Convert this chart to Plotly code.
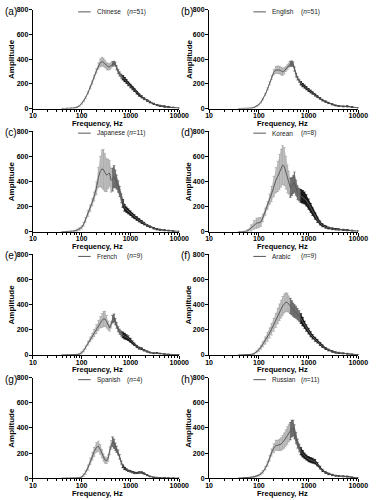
import plotly.graph_objects as go

# ---------------- data ----------------
FREQ_HZ = [40, 50, 60, 70, 80, 90, 100, 110, 120, 135, 150, 165, 180, 200, 220, 240, 260, 280, 300, 325,
           350, 375, 400, 430, 460, 490, 520, 560, 600, 650, 700, 760, 830, 900, 1000, 1100, 1200, 1350, 1500, 1700,
           1900, 2200, 2500, 3000, 3500, 4000, 5000, 6000, 7500, 10000]

CHINESE_MEAN = [0, 1, 2, 4, 10, 22, 40, 62, 88, 128, 170, 210, 255, 305, 345, 370, 380, 375, 362, 345,
                338, 340, 350, 362, 368, 360, 330, 300, 280, 262, 250, 235, 220, 200, 182, 165, 150, 128, 110, 95,
                80, 65, 52, 38, 28, 22, 16, 12, 8, 4]
CHINESE_SD = [1, 1, 1, 2, 3, 4, 5, 6, 7, 9, 10, 12, 14, 18, 25, 32, 35, 33, 30, 28,
              26, 24, 22, 18, 15, 15, 16, 17, 17, 17, 17, 17, 16, 15, 14, 13, 12, 11, 10, 9,
              8, 7, 6, 5, 5, 5, 6, 5, 3, 2]

ENGLISH_MEAN = [0, 0, 1, 3, 8, 18, 32, 50, 75, 115, 160, 205, 250, 295, 312, 315, 312, 305, 298, 305,
                320, 335, 350, 362, 365, 360, 320, 270, 245, 225, 205, 190, 178, 165, 150, 138, 126, 110, 96, 82,
                68, 56, 45, 34, 25, 20, 17, 18, 12, 5]
ENGLISH_SD = [1, 1, 1, 1, 2, 3, 4, 5, 6, 7, 8, 12, 16, 20, 28, 30, 30, 30, 30, 25,
              20, 20, 20, 20, 20, 18, 16, 14, 13, 13, 13, 13, 13, 13, 12, 11, 10, 9, 8, 7,
              6, 6, 5, 5, 4, 4, 4, 5, 3, 2]

JAPANESE_MEAN = [0, 0, 2, 6, 12, 22, 35, 60, 95, 145, 188, 235, 280, 345, 430, 480, 500, 495, 470, 450,
                 462, 465, 410, 415, 440, 420, 395, 360, 320, 265, 225, 190, 175, 162, 148, 132, 120, 105, 92, 78,
                 65, 50, 40, 28, 20, 16, 12, 9, 6, 3]
JAPANESE_SD = [1, 2, 3, 5, 8, 10, 12, 15, 18, 22, 25, 28, 35, 50, 80, 120, 150, 160, 150, 130,
               115, 100, 95, 90, 85, 70, 55, 45, 40, 35, 30, 25, 22, 20, 18, 17, 16, 15, 14, 12,
               10, 8, 7, 6, 5, 5, 4, 4, 3, 2]

KOREAN_MEAN = [0, 1, 8, 30, 55, 68, 72, 78, 110, 160, 210, 260, 300, 360, 410, 440, 475, 505, 530, 520,
               470, 420, 390, 350, 360, 375, 395, 350, 310, 295, 285, 278, 268, 250, 220, 190, 160, 125, 95, 70,
               52, 38, 30, 24, 20, 18, 15, 12, 9, 6]
KOREAN_SD = [1, 3, 10, 25, 35, 40, 40, 35, 30, 28, 30, 40, 60, 80, 100, 120, 140, 150, 155, 150,
             130, 110, 90, 75, 70, 70, 80, 60, 55, 50, 50, 50, 48, 45, 40, 35, 30, 25, 20, 16,
             12, 10, 8, 7, 6, 6, 5, 5, 4, 3]

FRENCH_MEAN = [0, 0, 0, 1, 3, 8, 18, 35, 60, 95, 125, 150, 175, 205, 235, 260, 275, 285, 288, 265,
               235, 215, 240, 285, 295, 265, 235, 205, 185, 170, 160, 150, 142, 135, 118, 100, 85, 68, 55, 50,
               38, 28, 20, 14, 16, 12, 7, 5, 3, 2]
FRENCH_SD = [0.5, 0.5, 1, 2, 3, 5, 8, 10, 12, 15, 18, 22, 28, 35, 40, 45, 55, 60, 60, 50,
             35, 25, 25, 30, 30, 25, 22, 20, 20, 20, 22, 22, 20, 18, 15, 12, 10, 9, 8, 7,
             6, 5, 4, 3, 4, 3, 2, 2, 1, 1]

ARABIC_MEAN = [0, 1, 2, 4, 10, 25, 42, 62, 85, 115, 145, 175, 205, 240, 275, 310, 340, 365, 390, 410,
               420, 418, 405, 390, 375, 360, 350, 340, 325, 310, 290, 265, 240, 215, 190, 165, 145, 125, 110, 88,
               70, 52, 40, 28, 20, 17, 13, 10, 6, 3]
ARABIC_SD = [1, 1, 2, 3, 5, 8, 12, 15, 20, 28, 35, 40, 45, 50, 55, 60, 65, 70, 75, 75,
             75, 72, 65, 60, 55, 52, 50, 48, 45, 42, 38, 32, 28, 25, 22, 20, 18, 16, 14, 12,
             10, 8, 7, 6, 5, 5, 4, 3, 2, 1]

SPANISH_MEAN = [0, 0, 0, 0, 1, 3, 10, 25, 45, 85, 135, 175, 210, 245, 255, 230, 195, 165, 145, 140,
                160, 220, 265, 290, 275, 250, 230, 205, 170, 125, 95, 78, 68, 60, 55, 48, 42, 42, 46, 46,
                38, 25, 15, 8, 5, 4, 3, 2, 1, 1]
SPANISH_SD = [0, 0, 0.5, 1, 2, 4, 6, 10, 14, 20, 25, 30, 35, 38, 40, 38, 32, 28, 25, 22,
              25, 30, 35, 38, 35, 30, 25, 20, 18, 12, 10, 8, 7, 6, 6, 5, 5, 5, 6, 6,
              5, 4, 3, 2, 2, 1, 1, 1, 1, 1]

RUSSIAN_MEAN = [1, 2, 4, 8, 12, 17, 24, 35, 50, 80, 115, 160, 205, 240, 262, 262, 265, 272, 285, 300,
                320, 340, 360, 375, 395, 400, 370, 320, 275, 240, 215, 195, 178, 165, 152, 145, 140, 132, 112, 85,
                62, 45, 35, 26, 20, 17, 15, 14, 8, 3]
RUSSIAN_SD = [1, 1, 2, 3, 4, 5, 6, 8, 10, 14, 18, 22, 28, 35, 40, 40, 45, 50, 55, 60,
              65, 70, 70, 68, 65, 62, 55, 45, 35, 30, 28, 25, 22, 20, 20, 20, 20, 18, 14, 11,
              9, 7, 6, 5, 4, 4, 4, 4, 2, 1]

LANGUAGES = ["Chinese", "English", "Japanese", "Korean", "French", "Arabic", "Spanish", "Russian"]
N_SPEAKERS = [51, 51, 11, 8, 9, 9, 4, 11]
PANEL_TAGS = ["(a)", "(b)", "(c)", "(d)", "(e)", "(f)", "(g)", "(h)"]
MEANS = [CHINESE_MEAN, ENGLISH_MEAN, JAPANESE_MEAN, KOREAN_MEAN, FRENCH_MEAN, ARABIC_MEAN, SPANISH_MEAN, RUSSIAN_MEAN]
SDS = [CHINESE_SD, ENGLISH_SD, JAPANESE_SD, KOREAN_SD, FRENCH_SD, ARABIC_SD, SPANISH_SD, RUSSIAN_SD]

Y_TICKS = [0, 200, 400, 600, 800]
X_TICKS = [10, 100, 1000, 10000]
X_TICK_LABELS = ["10", "100", "1000", "10000"]

# ---------------- layout geometry (pixels) ----------------
W, H = 377, 500
COLS = [(30, 182), (213, 368)]
ROWS = [(6, 106), (129, 231), (254, 356), (379, 481)]
FONT = "Liberation Sans, Arial, sans-serif"

def px(x):
    return x / W

def py(y):
    return 1 - y / H

# shading segments (frequency range, band fill, error-bar colour)
SEGMENTS = [(0, 460, "#c9c9c9", "#a2a2a2"),
            (460, 760, "#7c7c7c", "#5e5e5e"),
            (760, 20000, "#1e1e1e", "#141414")]

fig = go.Figure()
annotations = []
shapes = []

for i, lang in enumerate(LANGUAGES):
    r, c = divmod(i, 2)
    k = i + 1
    xa = "x" if k == 1 else f"x{k}"
    ya = "y" if k == 1 else f"y{k}"
    mean, sd = MEANS[i], SDS[i]
    for lo, hi, fillc, barc in SEGMENTS:
        idx = [j for j, f in enumerate(FREQ_HZ) if lo <= f <= hi]
        if idx[0] > 0:
            idx = [idx[0] - 1] + idx
        fs = [FREQ_HZ[j] for j in idx]
        up = [mean[j] + sd[j] for j in idx]
        dn = [max(mean[j] - sd[j], 0) for j in idx]
        fig.add_trace(go.Scatter(x=fs + fs[::-1], y=up + dn[::-1], fill="toself", fillcolor=fillc,
                                 line=dict(width=0), mode="lines", hoverinfo="skip", showlegend=False,
                                 xaxis=xa, yaxis=ya))
        fig.add_trace(go.Scatter(x=fs, y=[mean[j] for j in idx], mode="markers",
                                 marker=dict(size=1, color="rgba(0,0,0,0)"),
                                 error_y=dict(type="data", array=[sd[j] for j in idx], color=barc,
                                              thickness=0.7, width=1.2),
                                 hoverinfo="skip", showlegend=False, xaxis=xa, yaxis=ya))
    fig.add_trace(go.Scatter(x=FREQ_HZ, y=mean, mode="lines", line=dict(color="#5a5a5a", width=1),
                             showlegend=False, xaxis=xa, yaxis=ya))

    x0, x1 = COLS[c]
    top, bot = ROWS[r]
    axis_common = dict(showline=True, linecolor="black", linewidth=1.3, ticks="outside",
                       tickcolor="black", tickwidth=1, ticklen=3, showgrid=False, zeroline=False,
                       tickfont=dict(family=FONT, size=7, color="black", weight="bold"))
    fig.layout[("xaxis" if k == 1 else f"xaxis{k}")] = dict(
        domain=[px(x0), px(x1)], anchor=ya, type="log", range=[1, 4],
        tickmode="array", tickvals=X_TICKS, ticktext=X_TICK_LABELS, ticklabelstandoff=-3,
        minor=dict(ticks="outside", ticklen=2, tickwidth=0.8, tickcolor="black", dtick="D1", showgrid=False),
        **axis_common)
    fig.layout[("yaxis" if k == 1 else f"yaxis{k}")] = dict(
        domain=[py(bot), py(top)], anchor=xa, range=[0, 800],
        tickmode="array", tickvals=Y_TICKS, ticklabelstandoff=-1, **axis_common)

    # axis titles
    annotations.append(dict(x=px(8 if c == 0 else 192), y=py((top + bot) / 2), xref="paper", yref="paper",
                            xanchor="center", yanchor="middle",
                            text="Amplitude", textangle=-90, showarrow=False,
                            font=dict(family=FONT, size=8, color="black", weight="bold")))
    annotations.append(dict(x=px(97 if c == 0 else 289), y=py(bot + 15), xref="paper", yref="paper",
                            xanchor="center", yanchor="middle",
                            text="Frequency, Hz", showarrow=False,
                            font=dict(family=FONT, size=7.5, color="black", weight="bold")))
    # panel tag
    annotations.append(dict(x=px(-1 if c == 0 else 182), y=py(top + 1.5), xref="paper", yref="paper",
                            text=PANEL_TAGS[i], showarrow=False, xanchor="left", yanchor="middle",
                            font=dict(family=FONT, size=10, color="black")))
    # legend entry
    lx0 = 77 if c == 0 else 259
    ly = top + 2
    shapes.append(dict(type="line", xref="paper", yref="paper", x0=px(lx0), x1=px(lx0 + 13),
                       y0=py(ly), y1=py(ly), line=dict(color="#555555", width=1)))
    annotations.append(dict(x=px(lx0 + 17), y=py(ly), xref="paper", yref="paper", text=lang,
                            showarrow=False, xanchor="left", yanchor="middle",
                            font=dict(family=FONT, size=6.5, color="#222222")))
    annotations.append(dict(x=px(126 if c == 0 else 306), y=py(ly), xref="paper", yref="paper",
                            text=f"(<i>n</i>={N_SPEAKERS[i]})", showarrow=False,
                            xanchor="left", yanchor="middle",
                            font=dict(family=FONT, size=6.5, color="#222222")))

fig.update_layout(width=W, height=H, margin=dict(l=0, r=0, t=0, b=0),
                  paper_bgcolor="white", plot_bgcolor="white",
                  annotations=annotations, shapes=shapes, showlegend=False)

fig.write_html("out.html", config={"displayModeBar": False},
               post_script="document.body.style.margin='0px';document.body.style.padding='0px';")
